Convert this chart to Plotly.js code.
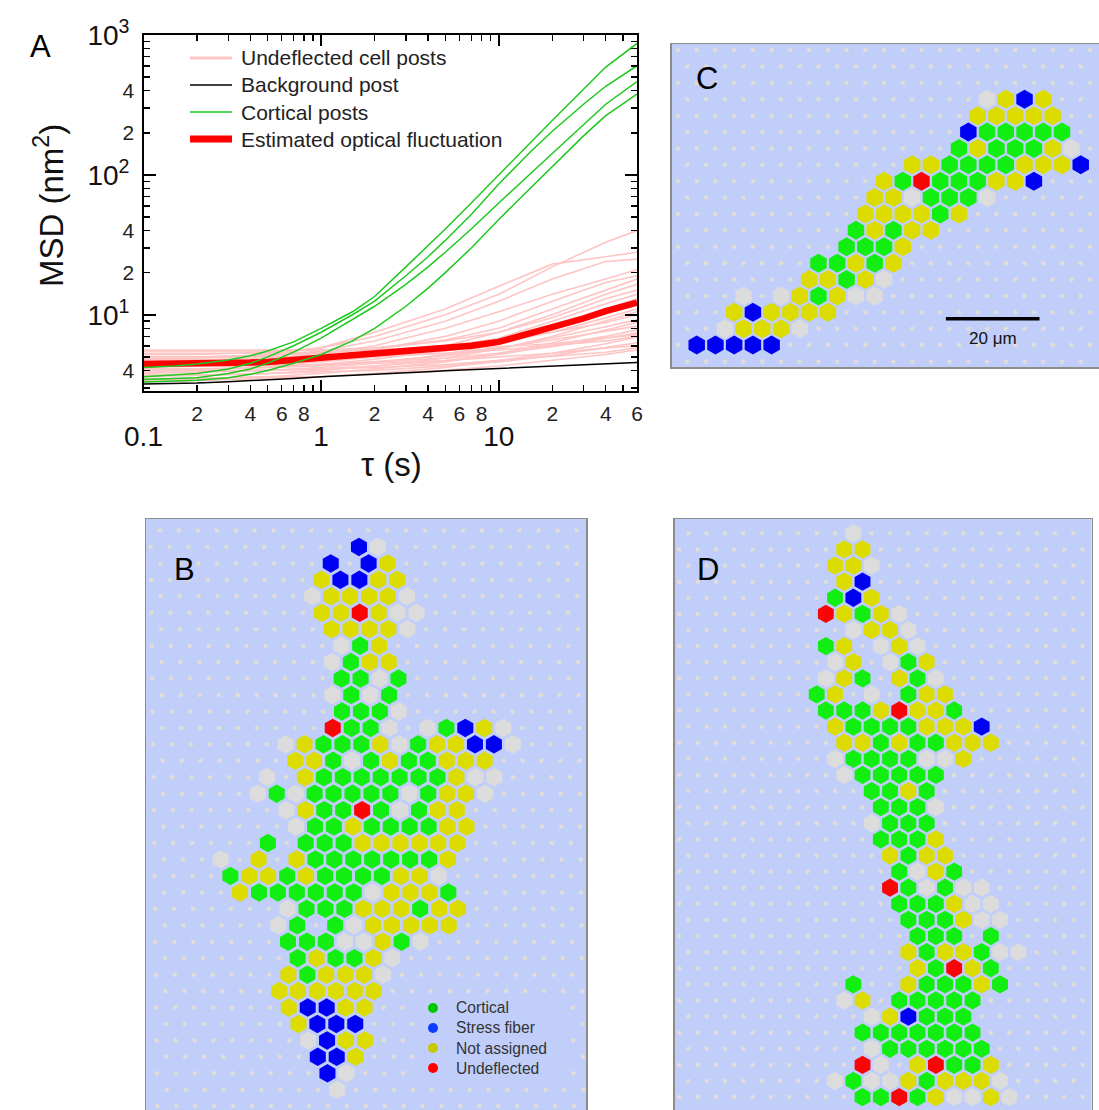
<!DOCTYPE html>
<html><head><meta charset="utf-8">
<script src="https://cdn.plot.ly/plotly-3.0.1.min.js"></script>
<style>html,body{margin:0;padding:0;background:#fff;}#chart{width:1099px;height:1110px;}</style>
</head><body><div id="chart"></div>
<script>
// ================= Panel A data (MSD vs tau) =================
const tau = [0.1,0.15,0.2,0.3,0.4,0.5,0.7,1,1.5,2,3,4,5,7,10,15,20,30,40,60];
const cortical1 = [4.2,4.3,4.45,4.75,5.1,5.5,6.4,8.0,10.5,13.5,22,31,41,63,100,170,245,410,590,870];
const cortical2 = [3.6,3.7,3.8,4.1,4.5,5.0,6.0,7.5,10,12.5,19,26,34,52,86,145,205,320,430,603];
const cortical3 = [3.45,3.5,3.55,3.8,4.1,4.5,5.4,6.8,9.2,11.5,16.5,22,28,41,63,102,142,228,320,464];
const cortical4 = [3.3,3.35,3.4,3.55,3.75,4.0,4.5,5.2,6.5,8.0,11.5,15.5,20,30,48,80,115,190,265,378];
const background = [3.2,3.22,3.25,3.32,3.37,3.42,3.5,3.6,3.68,3.75,3.85,3.92,3.98,4.05,4.12,4.2,4.28,4.38,4.45,4.55];
const optical = [4.45,4.45,4.45,4.5,4.55,4.6,4.75,4.9,5.05,5.2,5.45,5.6,5.75,6.0,6.4,7.3,8.1,9.4,10.6,12.2];
const tauPink = [0.1,0.2,0.5,1,2,5,10,20,40,60];
const undeflectedPosts = [
  [5.2,5.2,5.4,5.8,7.0,10,14,22,33,40],
  [4.8,4.9,5.2,5.8,7.5,11,16,23,26,28],
  [5.0,5.0,5.1,5.5,6.5,9,12.5,18,24,25],
  [4.6,4.7,4.9,5.2,6.0,8,10.5,14,18,21],
  [4.4,4.5,4.7,5.0,5.6,7.0,9.0,12.5,17,19],
  [4.9,5.0,5.1,5.3,5.7,6.6,8.0,11,15,18],
  [4.2,4.3,4.4,4.6,5.0,6.0,7.5,10,14,16.5],
  [5.5,5.5,5.5,5.6,5.8,6.5,7.5,9.5,13,15],
  [4.0,4.1,4.2,4.4,4.8,5.6,6.8,9,12,14],
  [4.7,4.7,4.8,4.9,5.2,5.9,6.8,8.5,11,13],
  [3.8,3.9,4.0,4.2,4.5,5.2,6.2,8,10.5,12],
  [4.5,4.5,4.6,4.7,5.0,5.5,6.3,7.5,9.5,11],
  [3.6,3.7,3.8,4.0,4.3,4.9,5.7,7,9,10.5],
  [5.3,5.3,5.3,5.4,5.6,6.0,6.6,7.5,8.8,10],
  [4.1,4.1,4.2,4.3,4.6,5.1,5.7,6.8,8.2,9.2],
  [3.4,3.5,3.6,3.8,4.1,4.6,5.3,6.3,7.8,8.8],
  [4.8,4.8,4.8,4.9,5.0,5.3,5.8,6.6,7.6,8.3],
  [3.9,3.9,4.0,4.1,4.3,4.7,5.2,6.0,7.0,7.8],
  [4.3,4.3,4.3,4.4,4.6,4.9,5.3,5.9,6.8,7.4],
  [3.3,3.4,3.5,3.6,3.8,4.2,4.7,5.3,6.2,6.9],
  [5.0,5.0,5.0,5.0,5.1,5.3,5.6,6.0,6.5,7.0],
  [3.7,3.7,3.8,3.9,4.0,4.3,4.6,5.1,5.8,6.3],
  [4.4,4.4,4.4,4.4,4.5,4.7,5.0,5.3,5.8,6.0],
  [3.5,3.5,3.6,3.6,3.8,4.0,4.3,4.7,5.2,5.6],
  [5.6,5.6,5.6,5.6,5.6,5.7,5.9,6.2,6.8,7.2],
  [4.0,4.0,4.0,4.1,4.2,4.4,4.7,5.0,5.4,5.8]
];
const seriesNamesA = ["Undeflected cell posts","Background post","Cortical posts","Estimated optical fluctuation"];
const xMinorTicks = [0.2,0.3,0.4,0.5,0.6,0.7,0.8,0.9,2,3,4,5,6,7,8,9,20,30,40,50,60];
const xLabelVals = [0.2,0.4,0.6,0.8,2,4,6,8,20,40,60];
const xLabelText = ["2","4","6","8","2","4","6","8","2","4","6"];
const xMajorVals = [0.1,1,10];
const xMajorText = ["0.1","1","10"];
const yMinorTicks = [3,4,5,6,7,8,9,20,30,40,50,60,70,80,90,200,300,400,500,600,700,800,900];
const yLabelVals = [4,20,40,200,400];
const yLabelText = ["4","2","4","2","4"];
const yMajorVals = [10,100,1000];
const yMajorText = ["10<sup>1</sup>","10<sup>2</sup>","10<sup>3</sup>"];

// ================= Post maps (B, C, D) =================
// g = cortical, b = stress fiber, y = not assigned, r = undeflected, w = grey post, . = background post
const mapB = [
".......................",
"...........bw..........",
".........b.by..........",
".........ybbyy.........",
"........wyyyyw.........",
".........yyryww........",
".........yyyyw.........",
"..........wgy..........",
".........wgyy..........",
"..........ggwg.........",
".........wgwg..........",
"..........gggw.........",
".........rggw.wgbyw....",
".......wygggywgyybbw...",
".......yygwgyggyyy.....",
"......w.ygggggggyww....",
".....wgwgggggwgyyw.....",
".......wyggrgwgyy......",
".......wggyggggyy......",
"......g.gggyyyyyy......",
"...w.y.ygggggggy.......",
"....gyygyggggyyw.......",
"....yggggggwyyyg.......",
".......wgggyyygyy......",
"......wg.gwyyyyy.......",
".......gggwwygw........",
".......gyggyw..........",
".......ygyyyw..........",
"......yyyyyy...........",
".......ybbyy...........",
".......ybbb............",
"........wbyy...........",
"........bby............",
".........bw............",
".........w.............",
"......................."
];
const mapC = [
".......................",
"......................",
".......................",
"................wyby..",
"................yyyyy..",
"...............bggggg.",
"...............gygggyw.",
"............yyggggyyyb",
"...........ygrgggyyb...",
"..........yywgggw.....",
"..........yyyygy.......",
".........gygyy........",
".........gggy..........",
".......ggygy..........",
".......yygyw...........",
"...w.wygyww...........",
"...ybyyyy..............",
"..wyyyw...............",
".bbbbb.................",
"......................"
];
const mapD = [
".........w............",
".........yy............",
"........yyw...........",
".........yb............",
"........gby...........",
"........rygyw..........",
".........wyyw.........",
"........gy.wyw.........",
"........wy.wgy........",
"........wyg.ygw........",
".......gy.w.gyy.......",
"........gggyryyg.......",
"........yggggyyyb.....",
".........yygyggyyy.....",
"........wggggwwy......",
".........wggggg........",
"..........ggyg........",
"...........gggw........",
"..........wggg........",
"...........gggy........",
"...........ygyy.......",
"............gwyg.......",
"...........rgwgww.....",
"............gggyww.....",
"............gggyww....",
".............ggg.g.....",
"............ygyygww...",
".............ygryg.....",
".........g..ygggyg....",
".........wy.ggggg......",
"..........wybggg......",
"..........ggggggg......",
"..........wgggggg.....",
"..........rw.yrggy.....",
"........wgwwygyyyw....",
"..........ggrgywwyw...."
];
const categoryNames = ["Cortical","Stress fiber","Not assigned","Undeflected"];

// ================= styles =================
const postColor = {g:'#12ee12', b:'#0000f2', y:'#dcdc00', r:'#fa0505', w:'#dcdcdc'};
const legendColor = ['#00c800','#0a3cff','#c8c800','#ff0000'];
const seriesColorA = ['#ffc4c4','#000000','#1ec81e','#ff0000'];
const seriesWidthA = [3,1.5,1.5,7];
const panelBg = '#c1cefa';
const dotColor = '#e0ddd6';
const FONT = 'Liberation Sans, Arial, Helvetica, sans-serif';

function latticeTraces(rows, phase, shear, xa, ya, hexSize){
  const dx=[],dy=[],hx=[],hy=[],hc=[];
  rows.forEach((row,R)=>{
    for(let c=0;c<row.length;c++){
      const ch=row[c];
      const X=2*c+((R+phase)%2)+shear*R;
      if(ch==='.'){dx.push(X);dy.push(R);}
      else{hx.push(X);hy.push(R);hc.push(postColor[ch]);}
    }
  });
  return [
    {type:'scatter',mode:'markers',x:dx,y:dy,xaxis:xa,yaxis:ya,showlegend:false,hoverinfo:'skip',
     marker:{symbol:'circle',size:4.5,color:dotColor,line:{width:0}},cliponaxis:true},
    {type:'scatter',mode:'markers',x:hx,y:hy,xaxis:xa,yaxis:ya,showlegend:false,hoverinfo:'skip',
     marker:{symbol:'hexagon',size:hexSize,color:hc,line:{width:0}},cliponaxis:true}
  ];
}

const traces=[];
// Panel A
undeflectedPosts.forEach(v=>{
  traces.push({type:'scatter',mode:'lines',x:tauPink,y:v,name:seriesNamesA[0],showlegend:false,
    line:{color:seriesColorA[0],width:1.6},hoverinfo:'skip'});
});
traces.push({type:'scatter',mode:'lines',x:tau,y:optical,name:seriesNamesA[3],showlegend:false,
  line:{color:seriesColorA[3],width:6.5},hoverinfo:'skip'});
[cortical1,cortical2,cortical3,cortical4].forEach(v=>{
  traces.push({type:'scatter',mode:'lines',x:tau,y:v,name:seriesNamesA[2],showlegend:false,
    line:{color:seriesColorA[2],width:1.5},hoverinfo:'skip'});
});
traces.push({type:'scatter',mode:'lines',x:tau,y:background,name:seriesNamesA[1],showlegend:false,
  line:{color:seriesColorA[1],width:1.5},hoverinfo:'skip'});
// overlay axes helpers (decade labels)
traces.push({type:'scatter',x:[null],y:[null],xaxis:'x5',yaxis:'y',showlegend:false,hoverinfo:'skip'});
traces.push({type:'scatter',x:[null],y:[null],xaxis:'x',yaxis:'y5',showlegend:false,hoverinfo:'skip'});

// Panels B, C, D
traces.push(...latticeTraces(mapB,1,0.021,'x2','y2',18.5));
traces.push(...latticeTraces(mapC,0,0,'x3','y3',19));
traces.push(...latticeTraces(mapD,1,0,'x4','y4',18.3));

const W=1099,H=1110;
const px=v=>v/W, py=v=>1-v/H;
const mapAxis=(dom,range,extra)=>Object.assign({domain:dom,range:range,showgrid:false,zeroline:false,
  showticklabels:false,ticks:'',showline:true,mirror:true,linecolor:'#8c8c8c',linewidth:1.5,fixedrange:true},extra||{});

const shapes=[
  {type:'rect',xref:'x2 domain',yref:'y2 domain',x0:0,x1:1,y0:0,y1:1,fillcolor:panelBg,line:{width:0},layer:'below'},
  {type:'rect',xref:'x3 domain',yref:'y3 domain',x0:0,x1:1,y0:0,y1:1,fillcolor:panelBg,line:{width:0},layer:'below'},
  {type:'rect',xref:'x4 domain',yref:'y4 domain',x0:0,x1:1,y0:0,y1:1,fillcolor:panelBg,line:{width:0},layer:'below'},
  // scale bar in C
  {type:'line',xref:'x3',yref:'y3',x0:28.6,x1:38.6,y0:16.4,y1:16.4,line:{color:'#000',width:3.5}},
  // legend box in B
  {type:'rect',xref:'paper',yref:'paper',x0:px(418),x1:px(566),y0:py(1082),y1:py(996),fillcolor:panelBg,line:{width:0},layer:'above'}
];
// legend samples in A
seriesNamesA.forEach((n,i)=>{
  const yy=58+27*i;
  shapes.push({type:'line',xref:'paper',yref:'paper',x0:px(190),x1:px(232),y0:py(yy),y1:py(yy),
    line:{color:seriesColorA[i],width:seriesWidthA[i]},layer:'above'});
});
// legend markers in B
categoryNames.forEach((n,i)=>{
  const yy=1008+20*i;
  shapes.push({type:'circle',xref:'paper',yref:'paper',x0:px(428),x1:px(438),y0:py(yy+5),y1:py(yy-5),
    fillcolor:legendColor[i],line:{width:0},layer:'above'});
});

const annotations=[
  {text:'20 μm',xref:'x3',yref:'y3',x:33.6,y:17.62,xanchor:'center',yanchor:'middle',showarrow:false,font:{size:17,color:'#111',family:FONT}},
  {text:'MSD (nm<sup>2</sup>)',xref:'paper',yref:'paper',x:px(49),y:py(206),xanchor:'center',yanchor:'middle',textangle:-90,showarrow:false,
    font:{size:33,color:'#111',family:FONT}},
  {text:'τ (s)',xref:'paper',yref:'paper',x:px(391),y:py(465),xanchor:'center',yanchor:'middle',showarrow:false,font:{size:33,color:'#111',family:FONT}},
  {text:seriesNamesA.join('<br>'),xref:'paper',yref:'paper',x:px(239),y:py(98.5),xanchor:'left',yanchor:'middle',align:'left',
    showarrow:false,font:{size:21,color:'#222',family:FONT}},
  {text:categoryNames.join('<br>'),xref:'paper',yref:'paper',x:px(454),y:py(1038),xanchor:'left',yanchor:'middle',align:'left',
    showarrow:false,font:{size:15.6,color:'#333',family:FONT}},
  {text:'A',xref:'paper',yref:'paper',x:px(40),y:py(46),xanchor:'center',yanchor:'middle',showarrow:false,font:{size:31,color:'#000',family:FONT}},
  {text:'B',xref:'paper',yref:'paper',x:px(185),y:py(569),xanchor:'center',yanchor:'middle',showarrow:false,font:{size:31,color:'#000',family:FONT}},
  {text:'C',xref:'paper',yref:'paper',x:px(707),y:py(79),xanchor:'center',yanchor:'middle',showarrow:false,font:{size:31,color:'#000',family:FONT}},
  {text:'D',xref:'paper',yref:'paper',x:px(708),y:py(569),xanchor:'center',yanchor:'middle',showarrow:false,font:{size:31,color:'#000',family:FONT}}
];

const layout={
  width:W,height:H,margin:{l:0,r:0,t:0,b:0},paper_bgcolor:'#ffffff',plot_bgcolor:'rgba(0,0,0,0)',
  font:{family:FONT,color:'#111111'},showlegend:false,
  xaxis:{type:'log',domain:[px(143.5),px(637)],range:[-1,Math.log10(60)],anchor:'y',
    tickmode:'array',tickvals:xLabelVals,ticktext:xLabelText,ticks:'inside',ticklen:6,tickwidth:1.5,tickcolor:'#000',
    minor:{tickmode:'array',tickvals:xMinorTicks,ticks:'inside',ticklen:6,tickwidth:1.5,tickcolor:'#000'},
    showline:true,mirror:'allticks',linecolor:'#000',linewidth:2,showgrid:false,zeroline:false,
    tickfont:{size:21,color:'#222'},ticklabelstandoff:3},
  xaxis5:{type:'log',overlaying:'x',anchor:'y',side:'bottom',range:[-1,Math.log10(60)],
    tickmode:'array',tickvals:xMajorVals,ticktext:xMajorText,ticks:'inside',ticklen:11,tickwidth:1.5,tickcolor:'#000',
    showline:false,mirror:'ticks',showgrid:false,zeroline:false,tickfont:{size:28,color:'#111'},ticklabelstandoff:26},
  yaxis:{type:'log',domain:[py(391),py(35)],range:[Math.log10(2.85),3],anchor:'x',
    tickmode:'array',tickvals:yLabelVals,ticktext:yLabelText,ticks:'inside',ticklen:6,tickwidth:1.5,tickcolor:'#000',
    minor:{tickmode:'array',tickvals:yMinorTicks,ticks:'inside',ticklen:6,tickwidth:1.5,tickcolor:'#000'},
    showline:true,mirror:'allticks',linecolor:'#000',linewidth:2,showgrid:false,zeroline:false,
    tickfont:{size:21,color:'#222'},ticklabelstandoff:3},
  yaxis5:{type:'log',overlaying:'y',anchor:'x',side:'left',range:[Math.log10(2.85),3],
    tickmode:'array',tickvals:yMajorVals,ticktext:yMajorText,ticks:'inside',ticklen:12,tickwidth:1.5,tickcolor:'#000',
    showline:false,mirror:'ticks',showgrid:false,zeroline:false,tickfont:{size:28,color:'#111'},ticklabelstandoff:13},
  xaxis2:mapAxis([px(146),px(586)],[-0.47,46.0],{anchor:'y2'}),
  yaxis2:mapAxis([0,py(519)],[35.23,-0.70],{anchor:'x2'}),
  xaxis3:mapAxis([px(671.7),1],[-0.67,44.95],{anchor:'y3'}),
  yaxis3:mapAxis([py(367),py(44)],[19.34,-0.376],{anchor:'x3'}),
  xaxis4:mapAxis([px(674.5),px(1091.7)],[-0.51,45.0],{anchor:'y4'}),
  yaxis4:mapAxis([0,py(519)],[35.8,-0.89],{anchor:'x4'}),
  shapes:shapes,
  annotations:annotations
};
Plotly.newPlot('chart',traces,layout,{staticPlot:true,displayModeBar:false});
</script>
</body></html>
